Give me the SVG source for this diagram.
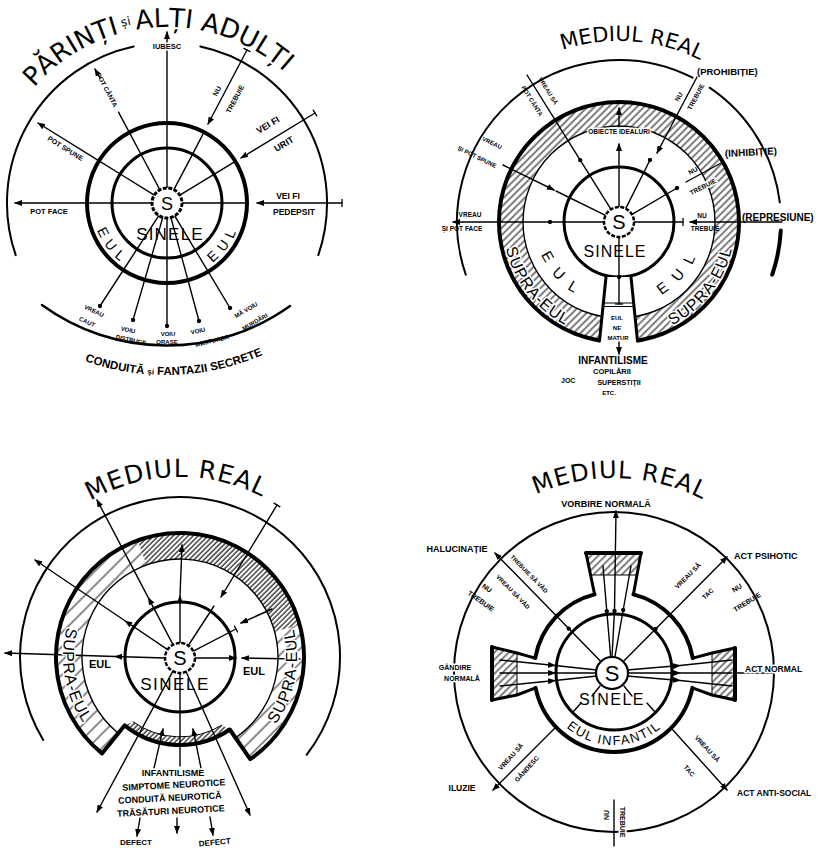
<svg xmlns="http://www.w3.org/2000/svg" width="838" height="850" viewBox="0 0 838 850">
<defs>
<style>
.k{fill:none;stroke:#000;stroke-linecap:round;stroke-linejoin:round}
.w1{stroke-width:1.4}.w2{stroke-width:2}.w3{stroke-width:3}.w4{stroke-width:4}
.a{marker-end:url(#ar)}
.tm{marker-mid:url(#tk)}
.dm{marker-mid:url(#dt)}
.am{marker-mid:url(#ar)}
.de{marker-end:url(#dt)}
.te{marker-end:url(#tk)}
.ts{marker-start:url(#tk)}
text{font-family:"Liberation Sans",Arial,sans-serif;fill:#000}
.b{font-weight:bold}
.m{text-anchor:middle}
.h{stroke:#fff;stroke-width:3;paint-order:stroke;stroke-linejoin:round}
.tt{font-family:"DejaVu Sans","Liberation Sans",sans-serif}
</style>
<marker id="ar" viewBox="0 0 8 6" refX="7" refY="3" markerWidth="8" markerHeight="6" markerUnits="userSpaceOnUse" orient="auto"><path d="M0,0 L8,3 L0,6 Z" fill="#000"/></marker>
<marker id="dt" viewBox="0 0 6 6" refX="3" refY="3" markerWidth="5" markerHeight="5" markerUnits="userSpaceOnUse"><circle cx="3" cy="3" r="2.6" fill="#000"/></marker>
<marker id="tk" viewBox="0 0 4 10" refX="2" refY="5" markerWidth="4" markerHeight="8" markerUnits="userSpaceOnUse" orient="auto"><path d="M2,0 L2,10" stroke="#000" stroke-width="1.6"/></marker>
<pattern id="hd" width="3.5" height="3.5" patternUnits="userSpaceOnUse" patternTransform="rotate(45)"><line x1="1" y1="0" x2="1" y2="3.5" stroke="#000" stroke-width="1.1"/></pattern>
<pattern id="hm" width="5" height="5" patternUnits="userSpaceOnUse" patternTransform="rotate(45)"><line x1="1" y1="0" x2="1" y2="5" stroke="#000" stroke-width="1"/></pattern>
<pattern id="hs" width="10" height="10" patternUnits="userSpaceOnUse" patternTransform="rotate(45)"><line x1="1" y1="0" x2="1" y2="10" stroke="#000" stroke-width="0.9"/></pattern>
<path id="p1t" d="M34.2,87.5 A176,176 0 0,1 301.8,89.9"/>
<path id="p1c" d="M67.6,354.1 A242,242 0 0,0 279.6,346.7"/>
<path id="p1el" d="M95.3,224.9 A75,75 0 0,0 129.5,268"/>
<path id="p1er" d="M207.8,265.9 A75,75 0 0,0 239.8,221.1"/>
<path id="p2t" d="M528.5,65.2 A181,181 0 0,1 709.5,65.2"/>
<path id="p2el" d="M537.8,244.8 A84,84 0 0,0 586.2,299.3"/>
<path id="p2er" d="M651.8,299.3 A84,84 0 0,0 700.2,244.8"/>
<path id="p2sl" d="M504.1,238.1 A116,116 0 0,0 575.5,329.6"/>
<path id="p2sr" d="M662.5,329.6 A116,116 0 0,0 733.9,238.1"/>
<path id="p3t" d="M90,501.1 A180,180 0 0,1 270,501.1"/>
<path id="p3sl" d="M70.1,617 A117,117 0 0,0 90.4,732.2"/>
<path id="p3sr" d="M274.7,725.8 A117,117 0 0,0 293,626.7"/>
<path id="p4t" d="M517,504 A194,194 0 0,1 711,504"/>
<path id="p4e" d="M550.8,708.5 A73,73 0 0,0 677.2,708.5"/>
</defs>
<rect width="838" height="850" fill="#fff"/>

<!-- ============ DIAGRAM 1 ============ -->
<g id="d1">
 <g id="d1-shapes">
  <path class="k w2" d="M15.7,255.1 A160,160 0 0,1 133.7,46.5"/>
  <path class="k w2" d="M200.3,46.5 A160,160 0 0,1 318.3,255.1"/>
  <path class="k" stroke-width="2.5" d="M42,305 A212,212 0 0,0 290,306"/>
  <circle class="k w4" cx="167" cy="203" r="80"/>
  <circle class="k w3" cx="167" cy="203" r="55"/>
 </g>
 <g id="d1-links" class="k w1">
  <polyline class="tm a" points="167,188 167,148 167,123 167,32"/>
  <polyline class="tm" points="159.9,189.8 141.1,154.5 129.3,132.4 118.5,112.2"/>
  <line class="a" x1="100" y1="78" x2="95" y2="69"/>
  <polyline class="tm a" points="154.3,195.1 120.2,174 99,160.8 38,123"/>
  <polyline class="tm a" points="152,203 112,203 87,203 15,203"/>
  <polyline class="tm te" points="182,203 222,203 247,203"/>
  <line class="ts a" x1="342" y1="203" x2="257" y2="203"/>
  <polyline class="tm te" points="179.8,195.2 214,174.4 235.3,161.4"/>
  <line class="ts a" x1="315" y1="113" x2="241" y2="158"/>
  <polyline class="tm te" points="173.9,189.7 192.5,154.3 204,132.1"/>
  <line class="ts a" x1="247" y1="50" x2="208" y2="124"/>
  <polyline class="tm de" points="158.8,215.6 137,249.1 123.4,270 100,306"/>
  <polyline class="tm de" points="162.8,217.4 151.7,255.9 144.7,279.9 133,320"/>
  <polyline class="tm de" points="167,218 167,258 167,283 167,326"/>
  <polyline class="tm de" points="170.9,217.5 181.4,256.1 188,280.2 199,321"/>
  <polyline class="tm de" points="174.7,215.9 195.3,250.2 208.2,271.6 230,308"/>
 </g>
 <g id="d1-self">
  <circle cx="167" cy="203" r="15" fill="#fff" stroke="#000" stroke-width="3" stroke-dasharray="4 1.5"/>
  <text class="m" x="167" y="210" font-size="18">S</text>
 </g>
 <g id="d1-labels">
  <text class="tt" font-size="26"><textPath href="#p1t">PĂRINȚI<tspan font-size="12" dy="-6"> și </tspan><tspan dy="6">ALȚI ADULȚI</tspan></textPath></text>
  <text class="b" font-size="11.5"><textPath href="#p1c" startOffset="50%" text-anchor="middle">CONDUITĂ <tspan font-size="8">și</tspan> FANTAZII SECRETE</textPath></text>
  <text font-size="14" letter-spacing="6"><textPath href="#p1el" startOffset="50%" text-anchor="middle">EUL</textPath></text>
  <text font-size="14" letter-spacing="6"><textPath href="#p1er" startOffset="50%" text-anchor="middle">EUL</textPath></text>
  <text class="m" x="170" y="240" font-size="17" letter-spacing="1.2">SINELE</text>
  <text class="b m h" x="167" y="49" font-size="7.5">IUBESC</text>
  <text class="b m" font-size="6.5" transform="translate(106.7,90.1) rotate(61.9)" dy="2">POT CÂNTA</text>
  <text class="b m" font-size="7" transform="translate(65.5,148.4) rotate(31.8)" dy="2.5">POT SPUNE</text>
  <text class="b m" x="49" y="214" font-size="7.5">POT FACE</text>
  <text class="b m" font-size="7" transform="translate(217,91) rotate(-62)" dy="2.5">NU</text>
  <text class="b m" font-size="7" transform="translate(235,99) rotate(-62)" dy="2.5">TREBUIE</text>
  <text class="b m" font-size="9" transform="translate(268,125) rotate(-31)" dy="3">VEI FI</text>
  <text class="b m" font-size="9" transform="translate(284,144) rotate(-31)" dy="3">URIT</text>
  <text class="b m" x="288" y="199" font-size="8.5">VEI FI</text>
  <text class="b m" x="294" y="215" font-size="8.5">PEDEPSIT</text>
  <text class="b m" font-size="6" transform="translate(94,311) rotate(25)" dy="2">VREAU</text>
  <text class="b m" font-size="6" transform="translate(87,322) rotate(25)" dy="2">CAUT</text>
  <text class="b m" font-size="6" transform="translate(128,330) rotate(12)" dy="2">VOIU</text>
  <text class="b m" font-size="6" transform="translate(131,340) rotate(12)" dy="2">DISTRUGE</text>
  <text class="b m" font-size="6" transform="translate(168,334)" dy="2">VOIU</text>
  <text class="b m" font-size="6" transform="translate(167,342)" dy="2">ORAȘE</text>
  <text class="b m" font-size="6" transform="translate(198,331) rotate(-12)" dy="2">VOIU</text>
  <text class="b m" font-size="6" transform="translate(212,341) rotate(-14)" dy="2">MASTURBA</text>
  <text class="b m" font-size="6" transform="translate(246,310) rotate(-30)" dy="2">MĂ VOIU</text>
  <text class="b m" font-size="6" transform="translate(255,322) rotate(-30)" dy="2">MURDĂRI</text>
 </g>
</g>

<!-- ============ DIAGRAM 2 ============ -->
<g id="d2">
 <g id="d2-shapes">
  <path class="k w2" d="M465.8,274.7 A162,162 0 0,1 692.5,77.7"/>
  <path class="k w2" d="M709.6,87.7 A162,162 0 0,1 779.8,202.3"/>
  <path class="k w4" d="M780.8,230.5 A162,162 0 0,1 772.2,274.7"/>
  <path fill="url(#hm)" fill-rule="evenodd" d="M739,222 A120,120 0 1,0 499,222 A120,120 0 1,0 739,222 Z M715,222 A96,96 0 1,0 523,222 A96,96 0 1,0 715,222 Z"/>
  <circle class="k w4" cx="619" cy="222" r="120"/>
  <circle class="k w1" cx="619" cy="222" r="96"/>
  <circle class="k w3" cx="619" cy="222" r="55"/>
  <polygon points="606,277 631,277 638,348 599,348" fill="#fff"/>
  <line class="k w3" x1="606" y1="277" x2="599.5" y2="341"/>
  <line class="k w3" x1="631" y1="277" x2="637.5" y2="341"/>
  <line class="k" stroke-width="1" x1="603.5" y1="303" x2="634" y2="303"/>
  <line class="k" stroke-width="1" x1="603.3" y1="306.5" x2="634.3" y2="306.5"/>
 </g>
 <g id="d2-links" class="k w1">
  <polyline class="tm a" points="619,207 619,167 619,144"/>
  <line class="a" x1="619" y1="127" x2="619" y2="108"/>
  <polyline class="dm" points="611,209.3 580.2,160.1 527,75"/>
  <line class="a" x1="503" y1="165" x2="554" y2="190"/>
  <line x1="556" y1="191" x2="605.5" y2="215.4"/>
  <polyline class="dm a" points="604,222 550,222 453,222"/>
  <line class="te" x1="634" y1="222" x2="683" y2="222"/>
  <line class="a" x1="782" y1="222" x2="690" y2="222"/>
  <line class="a" x1="697" y1="77" x2="657" y2="153"/>
  <line class="de" x1="625.7" y1="208.6" x2="650" y2="160"/>
  <line x1="723" y1="162" x2="686" y2="182"/>
  <line class="de" x1="632" y1="214.4" x2="677" y2="188"/>
  <polyline class="dm te" points="619,237 619,277 619,304"/>
  <line class="a" x1="619" y1="342" x2="619" y2="354"/>
 </g>
 <g id="d2-self">
  <circle cx="619" cy="222" r="15" fill="#fff" stroke="#000" stroke-width="2.5" stroke-dasharray="4 1.5"/>
  <text class="m" x="619" y="229" font-size="20">S</text>
 </g>
 <g id="d2-labels">
  <text class="tt" font-size="21"><textPath href="#p2t" startOffset="57%" text-anchor="middle">MEDIUL REAL</textPath></text>
  <text font-size="15" letter-spacing="11"><textPath href="#p2el" startOffset="55%" text-anchor="middle">EUL</textPath></text>
  <text font-size="15" letter-spacing="11"><textPath href="#p2er" startOffset="55%" text-anchor="middle">EUL</textPath></text>
  <text class="h" font-size="16" letter-spacing="1"><textPath href="#p2sl" startOffset="50%" text-anchor="middle">SUPRA-EUL</textPath></text>
  <text class="h" font-size="16" letter-spacing="1"><textPath href="#p2sr" startOffset="50%" text-anchor="middle">SUPRA-EUL</textPath></text>
  <text class="m" x="615" y="257" font-size="16" letter-spacing="1">SINELE</text>
  <text class="b m h" x="619" y="134" font-size="6.5">OBIECTE IDEALURI</text>
  <text class="b m" font-size="6" transform="translate(548,91) rotate(58)" dy="2">VREAU SĂ</text>
  <text class="b m" font-size="6" transform="translate(532,101) rotate(58)" dy="2">POT CÂNTA</text>
  <text class="b m" font-size="6" transform="translate(492,143) rotate(26)" dy="2">VREAU</text>
  <text class="b m" font-size="6" transform="translate(477,157) rotate(26)" dy="2">ȘI POT SPUNE</text>
  <text class="b m" x="470" y="217" font-size="6.5">VREAU</text>
  <text class="b m" x="462" y="231" font-size="6.5">ȘI POT FACE</text>
  <text class="b m" x="702" y="218" font-size="6.5">NU</text>
  <text class="b m" x="705" y="231" font-size="6.5">TREBUIE</text>
  <text class="b" x="742" y="221" font-size="10">(REPRESIUNE)</text>
  <text class="b m" font-size="6.5" transform="translate(679,97) rotate(-62)" dy="2">NU</text>
  <text class="b m" font-size="6.5" transform="translate(696,97) rotate(-62)" dy="2">TREBUIE</text>
  <text class="b" x="697" y="75" font-size="9.5">(PROHIBIȚIE)</text>
  <text class="b m" font-size="6.5" transform="translate(693,171) rotate(-27)" dy="2">NU</text>
  <text class="b m h" font-size="6.5" transform="translate(703,187) rotate(-27)" dy="2">TREBUIE</text>
  <text class="b" x="725" y="157" font-size="10" transform="rotate(-3 725 157)">(INHIBIȚIE)</text>
  <text class="b m" x="617" y="320" font-size="6">EUL</text>
  <text class="b m" x="617" y="330" font-size="6">NE</text>
  <text class="b m" x="618" y="340" font-size="6">MATUR</text>
  <text class="b m" x="613" y="364" font-size="10">INFANTILISME</text>
  <text class="b m" x="612" y="374" font-size="7.5">COPILĂRII</text>
  <text class="b" x="561" y="383" font-size="7">JOC</text>
  <text class="b m" x="619" y="385" font-size="7">SUPERSTIȚII</text>
  <text class="b m" x="609" y="395" font-size="6">ETC.</text>
 </g>
</g>

<!-- ============ DIAGRAM 3 ============ -->
<g id="d3">
 <g id="d3-shapes">
  <path class="k w2" d="M43.2,739.9 A160,160 0 1,1 306.6,754.8"/>
  <path fill="url(#hs)" d="M102,753.4 A124,124 0 0,1 137.6,540.5 L146.5,564.9 A98,98 0 0,0 118.3,733.2 Z"/>
  <path fill="url(#hd)" d="M137.6,540.5 A124,124 0 0,1 299.8,624.9 L274.7,631.6 A98,98 0 0,0 146.5,564.9 Z"/>
  <path fill="url(#hs)" d="M299.8,624.9 A124,124 0 0,1 250.2,759.2 L235.5,737.8 A98,98 0 0,0 274.7,631.6 Z"/>
  <path fill="url(#hd)" d="M124.6,725.4 L133,721.7 A80,80 0 0,0 221.8,725.2 L229.8,729.5 A88,88 0 0,1 124.6,725.4 Z"/>
  <path class="k w4" d="M102,753.4 A124,124 0 1,1 250.2,759.2 L229.8,729.5 A88,88 0 0,1 124.6,725.4 Z"/>
  <path class="k w1" d="M118.3,733.2 A98,98 0 1,1 235.5,737.8"/>
  <path class="k" stroke-width="1" d="M133,721.7 A80,80 0 0,0 221.8,725.2"/>
  <circle class="k w3" cx="180" cy="657" r="55"/>
 </g>
 <g id="d3-links" class="k w1">
  <polyline class="am a" points="180,643 180,596 182,545"/>
  <polyline class="am a" points="173,644.7 148.4,597.8 97,500"/>
  <polyline class="am a" points="167.6,649.6 125.3,621 35,560"/>
  <polyline class="am a" points="165,658 115,656.5 5,653"/>
  <line class="ts a" x1="277" y1="505" x2="221" y2="597"/>
  <line x1="188.3" y1="645.5" x2="214" y2="606"/>
  <line class="a" x1="272" y1="609" x2="241" y2="623"/>
  <line class="te" x1="193.3" y1="651.1" x2="236" y2="629"/>
  <line class="a" x1="195" y1="658" x2="236" y2="658"/>
  <line class="a" x1="300" y1="659" x2="242" y2="658"/>
  <line class="a" x1="172.9" y1="671.2" x2="97" y2="812"/>
  <line class="a" x1="186.1" y1="671.7" x2="250" y2="815"/>
  <line x1="180" y1="673" x2="180" y2="766"/>
  <line class="a" x1="154" y1="768" x2="163" y2="729"/>
  <line class="a" x1="201" y1="768" x2="193" y2="729"/>
  <line class="a" x1="140" y1="818" x2="137" y2="836"/>
  <line class="a" x1="177" y1="818" x2="177" y2="833"/>
  <line class="a" x1="210" y1="817" x2="213" y2="835"/>
 </g>
 <g id="d3-self">
  <circle cx="180" cy="658" r="15" fill="#fff" stroke="#000" stroke-width="2.5" stroke-dasharray="4 1.5"/>
  <text class="m" x="180" y="665" font-size="20">S</text>
 </g>
 <g id="d3-labels">
  <text class="tt" font-size="25" letter-spacing="1"><textPath href="#p3t" startOffset="48%" text-anchor="middle">MEDIUL REAL</textPath></text>
  <text class="h" font-size="16" letter-spacing="1"><textPath href="#p3sl" startOffset="50%" text-anchor="middle">SUPRA-EUL</textPath></text>
  <text class="h" font-size="16" letter-spacing="1"><textPath href="#p3sr" startOffset="50%" text-anchor="middle">SUPRA-EUL</textPath></text>
  <text class="b m" x="100" y="668" font-size="11">EUL</text>
  <text class="b m" x="254" y="675" font-size="11">EUL</text>
  <text class="m" x="175" y="690" font-size="17" letter-spacing="1.5">SINELE</text>
  <text class="b m h" x="173" y="776" font-size="9">INFANTILISME</text>
  <text class="b m h" x="174" y="788" font-size="9" transform="rotate(-3 174 788)">SIMPTOME NEUROTICE</text>
  <text class="b m h" x="170" y="801" font-size="9" transform="rotate(-3 170 801)">CONDUITĂ NEUROTICĂ</text>
  <text class="b m h" x="171" y="814" font-size="9" transform="rotate(-3 171 814)">TRĂSĂTURI NEUROTICE</text>
  <text class="b m" x="136" y="845" font-size="8">DEFECT</text>
  <text class="b m" x="215" y="845" font-size="8" transform="rotate(-5 215 845)">DEFECT</text>
 </g>
</g>

<!-- ============ DIAGRAM 4 ============ -->
<g id="d4">
 <g id="d4-shapes">
  <circle class="k w2" cx="614" cy="672" r="160"/>
  <polygon points="586,553 641,553 637,575 590,575" fill="url(#hm)"/>
  <polygon points="492,647 517,653 517,695 492,700" fill="url(#hm)"/>
  <polygon points="712,653 735,648 735,700 712,695" fill="url(#hm)"/>
  <path class="k w4" d="M692.4,687.9 A80,80 0 0,1 535.6,687.9"/>
  <path class="k w4" d="M535.2,658.1 A80,80 0 0,1 594.6,594.4"/>
  <path class="k w4" d="M633.4,594.4 A80,80 0 0,1 692.8,658.1"/>
  <path class="k w3" d="M594.6,594.4 L586,553 M633.4,594.4 L641,553"/>
  <line class="k w4" x1="586" y1="553" x2="641" y2="553"/>
  <line class="k" stroke-width="1" x1="590" y1="575" x2="637" y2="575"/>
  <path class="k w3" d="M535.2,658.1 L517,653 L492,647 M492,700 L517,695 L535.6,687.9"/>
  <line class="k w4" x1="492" y1="647" x2="492" y2="700"/>
  <line class="k" stroke-width="1" x1="517" y1="653" x2="517" y2="695"/>
  <path class="k w3" d="M692.8,658.1 L712,653 L735,648 M735,700 L712,695 L692.4,687.9"/>
  <line class="k w4" x1="735" y1="648" x2="735" y2="700"/>
  <line class="k" stroke-width="1" x1="712" y1="653" x2="712" y2="695"/>
  <circle class="k w3" cx="614" cy="672" r="58"/>
 </g>
 <g id="d4-links" class="k w1">
  <polyline class="dm a" points="612,657 614.5,611 616,511"/>
  <polyline class="dm" points="610.7,657.1 606.8,611.2 603,566"/>
  <polyline class="dm" points="614.8,657.3 623.2,610 631,566"/>
  <polyline class="dm a" points="600.8,661.5 568.7,628.6 495,553"/>
  <polyline class="dm a" points="623.3,661.6 655.6,629 727,557"/>
  <polyline class="am" points="500,660 555,665.5 597,670"/>
  <polyline class="am" points="500,673 555,673 596,673"/>
  <polyline class="am" points="500,686 555,680.5 597,676"/>
  <polyline class="am" points="627,670 680,665.5 732,660"/>
  <polyline class="am" points="628,673 680,673 732,673"/>
  <polyline class="am" points="627,676 680,680.5 732,686"/>
  <line x1="735" y1="673" x2="772" y2="673"/>
  <line class="a" x1="556" y1="727" x2="493" y2="790"/>
  <line class="a" x1="672" y1="729" x2="727" y2="790"/>
  <line x1="614" y1="800" x2="614" y2="846"/>
  <path d="M600,686 L592,696 M624,686 L632,696 M573,712 L581,703 M655,712 L647,703"/>
 </g>
 <g id="d4-self">
  <circle cx="612" cy="673" r="16" fill="#fff" stroke="#000" stroke-width="2.2"/>
  <text class="m" x="612" y="681" font-size="22">S</text>
 </g>
 <g id="d4-labels">
  <text class="tt" font-size="24" letter-spacing="1"><textPath href="#p4t" startOffset="53%" text-anchor="middle">MEDIUL REAL</textPath></text>
  <text class="b m h" x="606" y="507" font-size="9">VORBIRE NORMALĂ</text>
  <text class="b m" x="457" y="552" font-size="9">HALUCINAȚIE</text>
  <text class="b m" font-size="6" transform="translate(529,574) rotate(45.7)" dy="2">TREBUIE SĂ VĂD</text>
  <text class="b m" font-size="6" transform="translate(513,592) rotate(45.7)" dy="2">VREAU SĂ VĂD</text>
  <text class="b m" font-size="7" transform="translate(487,588) rotate(35)" dy="2.5">NU</text>
  <text class="b m" font-size="7" transform="translate(481,601) rotate(35)" dy="2.5">TREBUIE</text>
  <text class="b m" font-size="6.5" transform="translate(688,576) rotate(-45)" dy="2">VREAU SĂ</text>
  <text class="b m" font-size="6.5" transform="translate(708,594) rotate(-45)" dy="2">TAC</text>
  <text class="b m" font-size="7" transform="translate(737,588) rotate(-32)" dy="2.5">NU</text>
  <text class="b m" font-size="7" transform="translate(747,602) rotate(-32)" dy="2.5">TREBUIE</text>
  <text class="b" x="734" y="559" font-size="9">ACT PSIHOTIC</text>
  <text class="b m h" x="455" y="670" font-size="7">GÂNDIRE</text>
  <text class="b m h" x="462" y="681" font-size="7">NORMALĂ</text>
  <text class="b h" x="745" y="672" font-size="8.5">ACT NORMAL</text>
  <text class="b m" x="462" y="791" font-size="8.5">ILUZIE</text>
  <text class="b m" font-size="6.5" transform="translate(511,757) rotate(-48)" dy="2">VREAU SĂ</text>
  <text class="b m" font-size="6.5" transform="translate(527,769) rotate(-48)" dy="2">GÂNDESC</text>
  <text class="b m" font-size="6.5" transform="translate(707,749) rotate(47.5)" dy="2">VREAU SĂ</text>
  <text class="b m" font-size="6.5" transform="translate(689,771) rotate(47.5)" dy="2">TAC</text>
  <text class="b" x="737" y="796" font-size="8.5">ACT ANTI-SOCIAL</text>
  <text class="b m h" font-size="7" transform="translate(606,815) rotate(-90)" dy="2.5">NU</text>
  <text class="b m h" font-size="7" transform="translate(622,822) rotate(90)" dy="2.5">TREBUIE</text>
  <text class="m" x="612" y="705" font-size="16" letter-spacing="1.5">SINELE</text>
  <text font-size="13" letter-spacing="1.5"><textPath href="#p4e" startOffset="50%" text-anchor="middle">EUL INFANTIL</textPath></text>
 </g>
</g>
</svg>
